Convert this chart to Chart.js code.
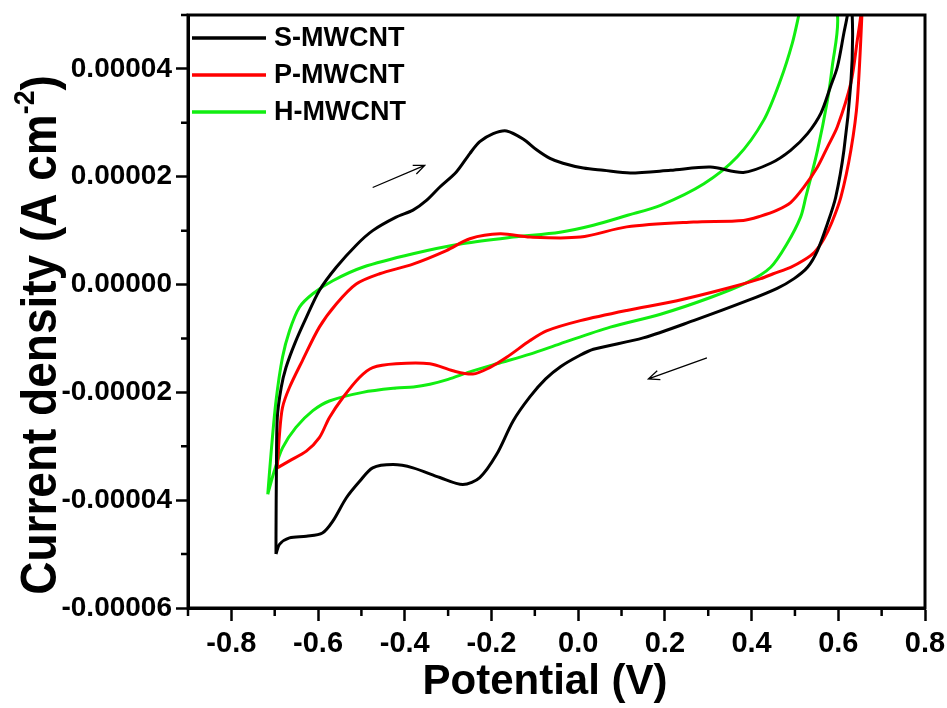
<!DOCTYPE html>
<html>
<head>
<meta charset="utf-8">
<script src="https://cdn.jsdelivr.net/npm/chart.js@4.4.0/dist/chart.umd.min.js"></script>
<style>
  body { margin: 0; background: #fff; }
</style>
</head>
<body>
<canvas id="cv" width="947" height="708"></canvas>
<script>
// cyclic voltammograms, potential in V, current density in 1e-5 A cm-2
// each loop: anodic scan up past the top of the frame, then back
const sPot = [-0.697,-0.697,-0.696,-0.694,-0.685,-0.674,-0.654,-0.627,-0.597,-0.558,-0.512,-0.474,-0.420,-0.381,-0.350,-0.319,-0.281,-0.250,-0.227,-0.196,-0.165,-0.127,-0.096,-0.065,-0.035,0.012,0.058,0.120,0.213,0.305,0.381,0.444,0.490,0.529,0.560,0.582,0.598,0.613,0.621,0.628,
  0.633,0.629,0.613,0.594,0.575,0.552,0.529,0.498,0.459,0.390,0.266,0.150,0.035,0.000,-0.040,-0.075,-0.111,-0.150,-0.188,-0.227,-0.266,-0.319,-0.381,-0.427,-0.474,-0.504,-0.535,-0.566,-0.590,-0.627,-0.666,-0.689,-0.697];
const sCur = [-5.00,-4.63,-3.40,-2.47,-1.91,-1.54,-1.10,-0.61,-0.11,0.32,0.73,1.00,1.25,1.38,1.56,1.81,2.09,2.43,2.65,2.80,2.85,2.70,2.50,2.34,2.25,2.16,2.12,2.07,2.12,2.18,2.08,2.25,2.49,2.80,3.18,3.67,4.04,4.67,5.00,5.50,
  4.67,3.74,2.49,1.62,1.13,0.63,0.32,0.11,-0.07,-0.30,-0.67,-0.99,-1.20,-1.33,-1.52,-1.75,-2.08,-2.53,-3.15,-3.58,-3.71,-3.58,-3.40,-3.34,-3.40,-3.65,-3.96,-4.39,-4.61,-4.67,-4.70,-4.82,-5.00];

const pPot = [-0.694,-0.689,-0.682,-0.666,-0.636,-0.597,-0.558,-0.512,-0.458,-0.381,-0.304,-0.250,-0.180,-0.111,0.005,0.112,0.266,0.381,0.421,0.459,0.490,0.521,0.552,0.575,0.598,0.629,0.644,0.652,0.657,
  0.644,0.629,0.606,0.585,0.567,0.545,0.520,0.490,0.450,0.421,0.344,0.228,0.112,0.005,-0.073,-0.111,-0.165,-0.204,-0.243,-0.289,-0.342,-0.420,-0.474,-0.504,-0.543,-0.574,-0.597,-0.627,-0.666,-0.694];
const pCur = [-3.40,-2.78,-2.28,-1.91,-1.41,-0.79,-0.36,0.01,0.20,0.38,0.63,0.85,0.94,0.88,0.88,1.07,1.16,1.19,1.27,1.38,1.52,1.81,2.18,2.55,2.93,3.74,4.54,5.00,5.50,
  3.42,2.49,1.62,1.15,0.85,0.60,0.45,0.32,0.20,0.11,-0.07,-0.30,-0.48,-0.67,-0.86,-1.04,-1.35,-1.54,-1.66,-1.60,-1.47,-1.47,-1.54,-1.72,-2.10,-2.47,-2.84,-3.09,-3.27,-3.40];

const hPot = [-0.716,-0.708,-0.697,-0.682,-0.666,-0.643,-0.612,-0.566,-0.497,-0.381,-0.265,-0.150,-0.042,0.035,0.112,0.190,0.290,0.367,0.428,0.467,0.494,0.509,0.550,
  0.598,0.586,0.575,0.552,0.525,0.513,0.482,0.444,0.390,0.305,0.190,0.074,-0.042,-0.111,-0.188,-0.250,-0.300,-0.342,-0.380,-0.420,-0.497,-0.574,-0.612,-0.651,-0.682,-0.701,-0.716];
const hCur = [-3.89,-3.09,-2.16,-1.35,-0.86,-0.42,-0.17,0.07,0.32,0.57,0.76,0.88,0.97,1.10,1.28,1.47,1.87,2.37,3.05,3.80,4.48,5.00,6.50,
  5.00,4.04,3.42,2.49,1.62,1.25,0.76,0.32,0.04,-0.24,-0.55,-0.79,-1.10,-1.29,-1.47,-1.62,-1.76,-1.85,-1.90,-1.92,-2.00,-2.16,-2.34,-2.65,-3.03,-3.46,-3.89];

const seriesNames = ['S-MWCNT', 'P-MWCNT', 'H-MWCNT'];
const seriesColors = ['#000000', '#ff0000', '#11ee11'];

const xTicks = [-0.8, -0.6, -0.4, -0.2, 0.0, 0.2, 0.4, 0.6, 0.8];
const xMinor = [-0.9, -0.7, -0.5, -0.3, -0.1, 0.1, 0.3, 0.5, 0.7];
const yTicks = [-6, -4, -2, 0, 2, 4];
const yMinor = [-5, -3, -1, 1, 3, 5];
const yUnit = 1e-5;

// scan direction arrows [x1, y1, x2, y2]
const arrows = [[-0.474, 1.80, -0.354, 2.21], [0.297, -1.36, 0.162, -1.75]];

function pts(xs, ys) {
  return xs.map((x, i) => ({ x: x, y: ys[i] * yUnit }));
}

const FONT = "'Liberation Sans', Arial, sans-serif";

const extras = {
  id: 'extras',
  afterDraw(chart) {
    const ctx = chart.ctx;
    const a = chart.chartArea;
    const xs = chart.scales.x, ys = chart.scales.y;
    ctx.save();
    // frame
    ctx.strokeStyle = '#000';
    ctx.lineWidth = 3;
    ctx.strokeRect(a.left, a.top, a.right - a.left, a.bottom - a.top);
    // minor ticks
    ctx.lineWidth = 2.5;
    ctx.beginPath();
    xMinor.forEach(v => {
      const p = xs.getPixelForValue(v);
      ctx.moveTo(p, a.bottom); ctx.lineTo(p, a.bottom + 8);
    });
    yMinor.forEach(v => {
      const p = ys.getPixelForValue(v * yUnit);
      ctx.moveTo(a.left, p); ctx.lineTo(a.left - 7, p);
    });
    ctx.stroke();
    // arrows
    ctx.lineWidth = 1.3;
    arrows.forEach(r => {
      const x1 = xs.getPixelForValue(r[0]), y1 = ys.getPixelForValue(r[1] * yUnit);
      const x2 = xs.getPixelForValue(r[2]), y2 = ys.getPixelForValue(r[3] * yUnit);
      const ang = Math.atan2(y2 - y1, x2 - x1);
      ctx.beginPath();
      ctx.moveTo(x1, y1); ctx.lineTo(x2, y2);
      ctx.moveTo(x2 - 12 * Math.cos(ang - 0.4), y2 - 12 * Math.sin(ang - 0.4));
      ctx.lineTo(x2, y2);
      ctx.lineTo(x2 - 12 * Math.cos(ang + 0.4), y2 - 12 * Math.sin(ang + 0.4));
      ctx.stroke();
    });
    // legend
    ctx.font = 'bold 27px ' + FONT;
    ctx.textBaseline = 'middle';
    ctx.fillStyle = '#000';
    seriesNames.forEach((name, i) => {
      const y = 38 + i * 37;
      ctx.strokeStyle = seriesColors[i];
      ctx.lineWidth = 3.5;
      ctx.beginPath();
      ctx.moveTo(192, y); ctx.lineTo(266, y);
      ctx.stroke();
      ctx.fillText(name, 274, y + 1);
    });
    // x title
    ctx.textBaseline = 'alphabetic';
    ctx.textAlign = 'center';
    ctx.font = 'bold 42px ' + FONT;
    ctx.fillText('Potential (V)', 545, 694);
    // y title with superscript, a bit condensed along the text
    const main = 'Current density (A cm';
    ctx.font = 'bold 50px ' + FONT;
    const w1 = ctx.measureText(main).width;
    const w3 = ctx.measureText(')').width;
    ctx.font = 'bold 29px ' + FONT;
    const w2 = ctx.measureText('-2').width;
    const total = w1 + w2 + w3;
    ctx.translate(56, 335);
    ctx.rotate(-Math.PI / 2);
    ctx.scale(0.92, 1);
    ctx.textAlign = 'left';
    const x0 = -total / 2;
    ctx.font = 'bold 50px ' + FONT;
    ctx.fillText(main, x0, 0);
    ctx.font = 'bold 29px ' + FONT;
    ctx.fillText('-2', x0 + w1, -22);
    ctx.font = 'bold 50px ' + FONT;
    ctx.fillText(')', x0 + w1 + w2, 0);
    ctx.restore();
  }
};

new Chart(document.getElementById('cv'), {
  type: 'scatter',
  data: {
    datasets: [
      { label: seriesNames[0], data: pts(sPot, sCur), borderColor: seriesColors[0] },
      { label: seriesNames[1], data: pts(pPot, pCur), borderColor: seriesColors[1] },
      { label: seriesNames[2], data: pts(hPot, hCur), borderColor: seriesColors[2] }
    ].map(d => Object.assign(d, { showLine: true, pointRadius: 0, borderWidth: 3, tension: 0.3 }))
  },
  options: {
    responsive: false,
    animation: false,
    layout: { padding: { top: 15, right: 22, left: 0, bottom: 0 } },
    plugins: { legend: { display: false }, tooltip: { enabled: false } },
    scales: {
      x: {
        min: -0.9, max: 0.8,
        afterBuildTicks: s => { s.ticks = xTicks.map(v => ({ value: v })); },
        afterFit: s => { s.height = 100; s.paddingLeft = 0; s.paddingRight = 0; },
        border: { display: true, color: '#000', width: 3 },
        grid: { drawOnChartArea: false, drawTicks: true, tickLength: 13, tickWidth: 2.5, tickColor: '#000' },
        ticks: {
          color: '#000', padding: 6, maxRotation: 0,
          font: { family: FONT, size: 29, weight: 'bold' },
          callback: v => v.toFixed(1)
        }
      },
      y: {
        min: -6 * yUnit, max: 5 * yUnit,
        afterBuildTicks: s => { s.ticks = yTicks.map(v => ({ value: v * yUnit })); },
        afterFit: s => { s.width = 188; s.paddingTop = 0; s.paddingBottom = 0; },
        border: { display: true, color: '#000', width: 3 },
        grid: { drawOnChartArea: false, drawTicks: true, tickLength: 12, tickWidth: 2.5, tickColor: '#000' },
        ticks: {
          color: '#000', padding: 4,
          font: { family: FONT, size: 28, weight: 'bold' },
          callback: v => v.toFixed(5)
        }
      }
    }
  },
  plugins: [extras]
});
</script>
</body>
</html>
